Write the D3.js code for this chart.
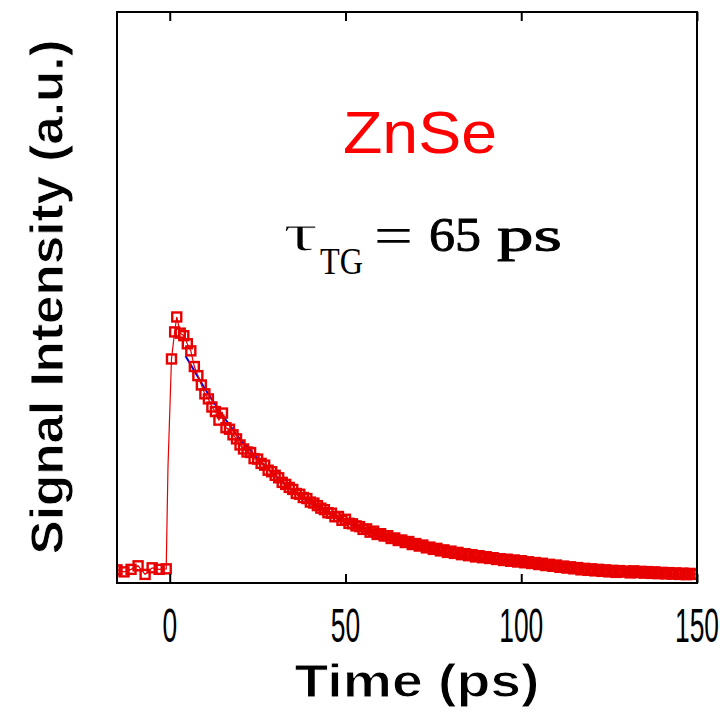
<!DOCTYPE html>
<html>
<head>
<meta charset="utf-8">
<script src="https://cdn.jsdelivr.net/npm/d3@7"></script>
<style>
  html, body { margin: 0; padding: 0; background: #fff; }
  svg { display: block; }
</style>
</head>
<body>
<svg id="chart" width="720" height="727"></svg>
<script>
// Transient-grating signal of ZnSe: measured trace (red open squares) and exponential fit (blue).

// Samples before and around time zero (ps, a.u.)
const riseTime   = [-15, -13, -11, -9, -7, -5, -3, -1, 0.5, 1.4, 2.0, 3.0];
const riseSignal = [0.004, -0.004, 0.006, 0.020, -0.014, 0.012, 0.006, 0.008, 0.838, 0.945, 1.004, 0.940];

// Leading-edge sample on the rising step (drawn in the line only)
const edgeTime = -0.5;
const edgeSignal = 0.41;

// Decay samples, 1 ps apart, starting at 4 ps
const decayStart = 4;
const decaySignal = [
  0.930, 0.898, 0.870, 0.808, 0.772, 0.735, 0.700, 0.680, 0.648, 0.630,
  0.596, 0.624, 0.566, 0.560, 0.538, 0.522, 0.498, 0.482, 0.470, 0.468,
  0.444, 0.442, 0.425, 0.418, 0.398, 0.392, 0.378, 0.368, 0.350, 0.342,
  0.330, 0.322, 0.306, 0.303, 0.290, 0.286, 0.272, 0.268, 0.258, 0.248,
  0.242, 0.230, 0.228, 0.214, 0.215, 0.200, 0.204, 0.188, 0.186, 0.178,
  0.175, 0.164, 0.166, 0.153, 0.157, 0.144, 0.147, 0.138, 0.139, 0.128,
  0.130, 0.120, 0.122, 0.112, 0.116, 0.104, 0.108, 0.098, 0.102, 0.091,
  0.094, 0.085, 0.089, 0.079, 0.083, 0.073, 0.078, 0.069, 0.073, 0.064,
  0.068, 0.060, 0.064, 0.055, 0.060, 0.052, 0.056, 0.049, 0.052, 0.045,
  0.048, 0.041, 0.046, 0.038, 0.043, 0.035, 0.040, 0.032, 0.036, 0.029,
  0.033, 0.025, 0.030, 0.021, 0.026, 0.018, 0.023, 0.014, 0.019, 0.011,
  0.016, 0.008, 0.013, 0.004, 0.010, 0.002, 0.008, 0.000, 0.006, -0.002,
  0.004, -0.004, 0.002, -0.006, 0.001, -0.005, -0.001, -0.008, 0.000, -0.007,
  -0.002, -0.009, -0.003, -0.010, -0.004, -0.011, -0.006, -0.012, -0.007, -0.013,
  -0.008, -0.014, -0.009, -0.015, -0.010, -0.014, -0.013
];

// Exponential fit (ps, a.u.)
const fitTime   = [4.5, 10, 15, 20, 25, 30, 35, 40, 45, 50, 55, 60, 65, 70, 75, 80, 85, 90, 95, 100,
                   105, 110, 115, 120, 125, 130, 135, 140, 145, 150];
const fitSignal = [0.850, 0.720, 0.615, 0.520, 0.445, 0.375, 0.315, 0.268, 0.228, 0.192, 0.163, 0.135,
                   0.112, 0.095, 0.078, 0.065, 0.053, 0.044, 0.036, 0.030, 0.024, 0.019, 0.015, 0.012,
                   0.010, 0.008, 0.006, 0.005, 0.004, 0.003];

const xTicks = [0, 50, 100, 150];
const xDomain = [-15, 150];
const yDomain = [-0.048, 2.21];

const titleText = "ZnSe";
const xLabel = "Time  (ps)";
const yLabel = "Signal Intensity (a.u.)";

// ---- assemble series ----
const decayTime = decaySignal.map((_, i) => decayStart + i);
const markerPts = riseTime.map((t, i) => [t, riseSignal[i]])
  .concat(decayTime.map((t, i) => [t, decaySignal[i]]));
const linePts = markerPts.slice();
linePts.splice(riseTime.indexOf(-1) + 1, 0, [edgeTime, edgeSignal]);
const fitPts = fitTime.map((t, i) => [t, fitSignal[i]]);

// ---- layout ----
const svg = d3.select("#chart");
const plot = { left: 117, right: 697, top: 12, bottom: 583 };

const x = d3.scaleLinear().domain(xDomain).range([plot.left, plot.right]);
const y = d3.scaleLinear().domain(yDomain).range([plot.bottom, plot.top]);

svg.append("defs").append("clipPath").attr("id", "plotClip")
  .append("rect")
  .attr("x", plot.left).attr("y", plot.top)
  .attr("width", plot.right - plot.left).attr("height", plot.bottom - plot.top);

const line = d3.line().x(d => x(d[0])).y(d => y(d[1]));

const g = svg.append("g").attr("clip-path", "url(#plotClip)");

// fit curve underneath the data
g.append("path")
  .datum(fitPts)
  .attr("d", line)
  .attr("fill", "none")
  .attr("stroke", "#0000e0")
  .attr("stroke-width", 2);

// data line
g.append("path")
  .datum(linePts)
  .attr("d", line)
  .attr("fill", "none")
  .attr("stroke", "#e80000")
  .attr("stroke-width", 1.2);

// open square markers
const ms = 9;
g.append("g").selectAll("rect")
  .data(markerPts)
  .join("rect")
  .attr("x", d => x(d[0]) - ms / 2)
  .attr("y", d => y(d[1]) - ms / 2)
  .attr("width", ms)
  .attr("height", ms)
  .attr("fill", "none")
  .attr("stroke", "#e80000")
  .attr("stroke-width", 2.4);

// ---- axes (ticks inward on top and bottom, no y ticks) ----
const axisBottom = d3.axisBottom(x).tickValues(xTicks).tickSizeInner(-9).tickSizeOuter(0).tickFormat("");
const axisTop = d3.axisTop(x).tickValues(xTicks).tickSizeInner(-9).tickSizeOuter(0).tickFormat("");

svg.append("g").attr("transform", `translate(0,${plot.bottom})`).call(axisBottom)
  .call(a => a.select(".domain").remove())
  .selectAll("line").attr("stroke", "#000").attr("stroke-width", 2);
svg.append("g").attr("transform", `translate(0,${plot.top})`).call(axisTop)
  .call(a => a.select(".domain").remove())
  .selectAll("line").attr("stroke", "#000").attr("stroke-width", 2);

// frame
svg.append("rect")
  .attr("x", plot.left).attr("y", plot.top)
  .attr("width", plot.right - plot.left).attr("height", plot.bottom - plot.top)
  .attr("fill", "none").attr("stroke", "#000").attr("stroke-width", 2);

// tick labels in a narrow face
svg.append("g").selectAll("text")
  .data(xTicks)
  .join("text")
  .attr("transform", d => `translate(${x(d)},642) scale(0.55,1)`)
  .attr("text-anchor", "middle")
  .attr("font-family", "Liberation Sans, Arial, sans-serif")
  .attr("font-size", 48)
  .attr("fill", "#000")
  .text(d => d);

// axis titles (a thin white outline on top trims the bold strokes a little)
svg.append("text")
  .attr("x", 417).attr("y", 697)
  .attr("text-anchor", "middle")
  .attr("font-family", "Liberation Sans, Arial, sans-serif")
  .attr("font-weight", "bold")
  .attr("font-size", 46)
  .attr("textLength", 245)
  .attr("lengthAdjust", "spacingAndGlyphs")
  .attr("stroke", "#fff")
  .attr("stroke-width", 1)
  .text(xLabel);

svg.append("text")
  .attr("transform", "translate(63,297) rotate(-90)")
  .attr("text-anchor", "middle")
  .attr("font-family", "Liberation Sans, Arial, sans-serif")
  .attr("font-weight", "bold")
  .attr("font-size", 47)
  .attr("textLength", 515)
  .attr("lengthAdjust", "spacingAndGlyphs")
  .attr("stroke", "#fff")
  .attr("stroke-width", 0.8)
  .text(yLabel);

// sample name
svg.append("text")
  .attr("x", 420).attr("y", 153)
  .attr("text-anchor", "middle")
  .attr("font-family", "Liberation Sans, Arial, sans-serif")
  .attr("font-size", 60)
  .attr("textLength", 154)
  .attr("lengthAdjust", "spacingAndGlyphs")
  .attr("fill", "#ff0000")
  .text(titleText);

// decay time annotation
const serif = "Liberation Serif, Times New Roman, serif";
const ann = svg.append("g").attr("font-family", serif).attr("fill", "#000");
ann.append("text").attr("x", 283).attr("y", 250).attr("font-size", 52)
  .attr("textLength", 35).attr("lengthAdjust", "spacingAndGlyphs")
  .attr("stroke", "#fff").attr("stroke-width", 1)
  .text("τ");
ann.append("text").attr("x", 320).attr("y", 274).attr("font-size", 37)
  .attr("textLength", 43).attr("lengthAdjust", "spacingAndGlyphs").text("TG");
ann.append("text").attr("x", 374).attr("y", 254).attr("font-size", 54)
  .attr("textLength", 39).attr("lengthAdjust", "spacingAndGlyphs").text("=");
ann.append("text").attr("x", 429).attr("y", 251).attr("font-size", 48)
  .attr("stroke", "#000").attr("stroke-width", 0.9)
  .attr("textLength", 52).attr("lengthAdjust", "spacingAndGlyphs").text("65");
ann.append("text").attr("x", 497).attr("y", 251).attr("font-size", 48)
  .attr("stroke", "#000").attr("stroke-width", 0.9)
  .attr("textLength", 65).attr("lengthAdjust", "spacingAndGlyphs").text("ps");
</script>
</body>
</html>
